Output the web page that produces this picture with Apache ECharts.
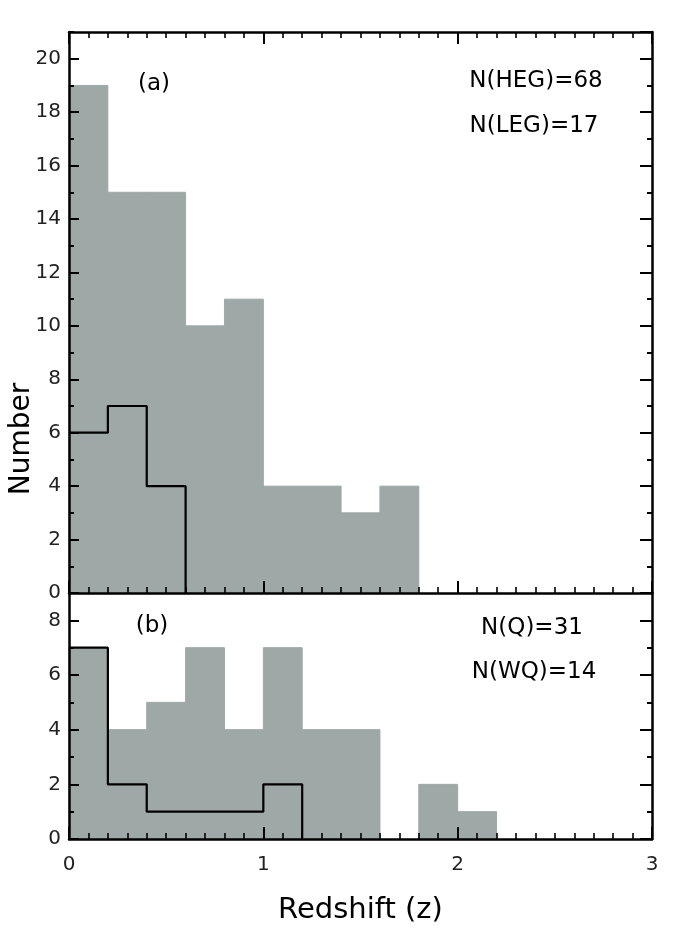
<!DOCTYPE html>
<html>
<head>
<meta charset="utf-8">
<script src="https://cdn.jsdelivr.net/npm/echarts@6/dist/echarts.min.js"></script>
<style>
  html, body { margin: 0; padding: 0; background: #fff; }
  #chart { width: 691px; height: 949px; }
</style>
</head>
<body>
<div id="chart"></div>
<script>
// redshift bins, width 0.2
const binEdges = [0, 0.2, 0.4, 0.6, 0.8, 1.0, 1.2, 1.4, 1.6, 1.8, 2.0, 2.2];
// panel (a): all radio galaxies (HEG + LEG) and LEG only
const galaxyCounts = [19, 15, 15, 10, 11, 4, 4, 3, 4];
const legCounts = [6, 7, 4];
// panel (b): all quasars (Q + WQ) and WQ only
const quasarCounts = [7, 4, 5, 7, 4, 7, 4, 4, 0, 2, 1];
const wqCounts = [7, 2, 1, 1, 1, 2];

const panelA = ['(a)', 'N(HEG)=68', 'N(LEG)=17'];
const panelB = ['(b)', 'N(Q)=31', 'N(WQ)=14'];

const FONT = 'DejaVu Sans';
const GRAY = '#9ea9a7';

const toBars = counts => counts.map((c, i) => [binEdges[i], binEdges[i + 1], c]);
const toSteps = counts => counts.map((c, i) => [binEdges[i], c]).concat([[binEdges[counts.length], 0]]);

const gridA = { left: 69, right: 39, top: 32, height: 561 };
const gridB = { left: 69, right: 39, top: 593, height: 246 };

const black = (w) => ({ color: '#000', width: w });

function xAx(gridIndex, position, labels, name) {
  return {
    type: 'value', gridIndex, position, min: 0, max: 3, interval: 1, z: 10,
    name: name || '', nameLocation: 'middle', nameGap: 57,
    nameTextStyle: { fontFamily: FONT, fontSize: 29, color: '#000' },
    axisLine: { show: true, onZero: false, lineStyle: black(2.5) },
    axisTick: { show: true, inside: true, length: 12, lineStyle: black(2) },
    minorTick: { show: true, splitNumber: 10, length: 6, lineStyle: black(1.6) },
    splitLine: { show: false },
    axisLabel: { show: labels, margin: 16, fontFamily: FONT, fontSize: 20, color: '#222' }
  };
}

function hiddenX(gridIndex) {
  return { type: 'value', gridIndex, min: 0, max: 3, show: false };
}

function yAx(gridIndex, position, max, interval, tickLen, labels, line) {
  return {
    type: 'value', gridIndex, position, min: 0, max, interval, z: 10,
    axisLine: { show: line, onZero: false, lineStyle: black(2.5) },
    axisTick: { show: true, inside: true, length: tickLen, lineStyle: black(2) },
    splitLine: { show: false },
    axisLabel: {
      show: labels, showMaxLabel: false, margin: 8,
      fontFamily: FONT, fontSize: 20, color: '#222'
    }
  };
}

function barSeries(xi, yi, counts) {
  return {
    type: 'custom', xAxisIndex: xi, yAxisIndex: yi, z: 2, silent: true,
    encode: { x: [0, 1], y: 2 },
    data: toBars(counts),
    renderItem: (params, api) => {
      const p0 = api.coord([api.value(0), api.value(2)]);
      const p1 = api.coord([api.value(1), 0]);
      return {
        type: 'rect',
        shape: { x: p0[0], y: p0[1], width: p1[0] - p0[0], height: p1[1] - p0[1] },
        style: { fill: GRAY, stroke: api.value(2) > 0 ? GRAY : null, lineWidth: 1 }
      };
    }
  };
}

function stepSeries(xi, yi, counts) {
  return {
    type: 'line', xAxisIndex: xi, yAxisIndex: yi, z: 4, step: 'end',
    symbol: 'none', silent: true, clip: false,
    lineStyle: black(2.2),
    data: toSteps(counts)
  };
}

function note(text, x, y, size) {
  return {
    type: 'text', x, y, z: 20,
    style: { text, fontFamily: FONT, fontSize: size, fill: '#000', align: 'center', verticalAlign: 'middle' }
  };
}

const chart = echarts.init(document.getElementById('chart'));
chart.setOption({
  animation: false,
  backgroundColor: '#fff',
  grid: [gridA, gridB, Object.assign({}, gridA), Object.assign({}, gridB)],
  xAxis: [
    xAx(0, 'bottom', false),
    xAx(0, 'top', false),
    xAx(1, 'bottom', true, 'Redshift (z)'),
    hiddenX(2),
    hiddenX(3)
  ],
  yAxis: [
    yAx(0, 'left', 21, 2, 10, true, true),
    yAx(0, 'right', 21, 2, 12, false, true),
    yAx(1, 'left', 9, 2, 10, true, true),
    yAx(1, 'right', 9, 2, 12, false, true),
    yAx(2, 'left', 21, 1, 5, false, false),
    yAx(2, 'right', 21, 1, 5, false, false),
    yAx(3, 'left', 9, 1, 5, false, false),
    yAx(3, 'right', 9, 1, 5, false, false)
  ],
  series: [
    barSeries(0, 0, galaxyCounts),
    stepSeries(0, 0, legCounts),
    barSeries(2, 2, quasarCounts),
    stepSeries(2, 2, wqCounts)
  ],
  graphic: [
    note(panelA[0], 154, 84, 23),
    note(panelA[1], 536, 81, 23),
    note(panelA[2], 534, 126, 23),
    note(panelB[0], 152, 626, 23),
    note(panelB[1], 532, 628, 23),
    note(panelB[2], 534, 672, 23),
    {
      type: 'text', x: 22, y: 439, rotation: Math.PI / 2, z: 20,
      style: { text: 'Number', fontFamily: FONT, fontSize: 28, fill: '#000', align: 'center', verticalAlign: 'middle' }
    }
  ]
});
</script>
</body>
</html>
